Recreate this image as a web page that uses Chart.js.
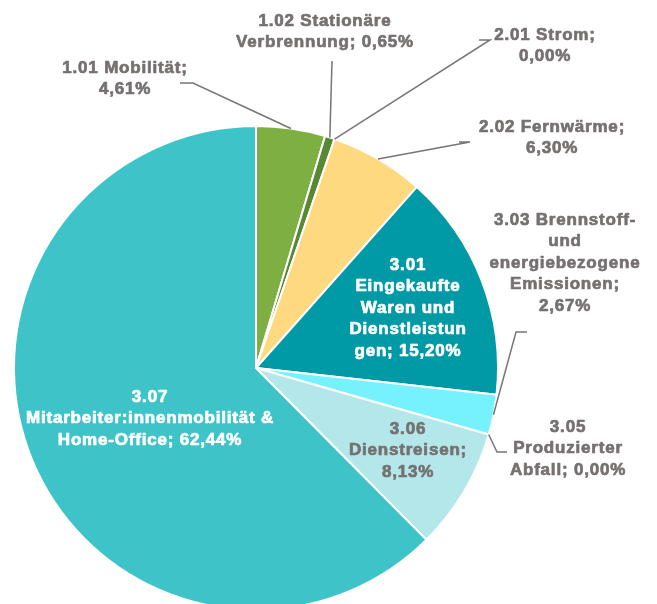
<!DOCTYPE html>
<html>
<head>
  <title>Emissionen nach Kategorie</title>
  <script src="https://cdn.jsdelivr.net/npm/chart.js"></script>
  <style>
    html, body { margin: 0; padding: 0; background: #fff; overflow: hidden; }
    #wrap { position: absolute; left: 0; top: 0; width: 657px; height: 611px; }
  </style>
</head>
<body>
  <div id="wrap"><canvas id="pieChart"></canvas></div>

  <script>
    // data
    const categories = [
      '1.01 Mobilität',
      '1.02 Stationäre Verbrennung',
      '2.01 Strom',
      '2.02 Fernwärme',
      '3.01 Eingekaufte Waren und Dienstleistungen',
      '3.03 Brennstoff- und energiebezogene Emissionen',
      '3.05 Produzierter Abfall',
      '3.06 Dienstreisen',
      '3.07 Mitarbeiter:innenmobilität & Home-Office'
    ];
    const shares = [4.61, 0.65, 0.00, 6.30, 15.20, 2.67, 0.00, 8.13, 62.44];
    const sliceColors = ['#7daf43', '#578833', '#4472c4', '#ffd97f', '#0099a6', '#75f2fd', '#a5a5a5', '#b4e7ea', '#3ec3c9'];

    // how each data label is wrapped, {v} = value
    const labelWrap = [
      '1.01 Mobilität;|{v}',
      '1.02 Stationäre|Verbrennung; {v}',
      '2.01 Strom;|{v}',
      '2.02 Fernwärme;|{v}',
      '3.01|Eingekaufte|Waren und|Dienstleistun|gen; {v}',
      '3.03 Brennstoff-|und|energiebezogene|Emissionen;|{v}',
      '3.05|Produzierter|Abfall; {v}',
      '3.06|Dienstreisen;|{v}',
      '3.07|Mitarbeiter:innenmobilität &|Home-Office; {v}'
    ];

    // label placement (centre of first line) and leader line bends
    const labelPos = [
      [125, 68], [325, 21], [545, 35], [552, 127], [408, 265],
      [565, 220], [568, 427], [408, 429], [150, 397]
    ];
    const leaders = [
      [[193, 83], [180, 83]],
      [[332, 61]],
      [[490, 40], [479, 40]],
      [[470, 142], [459, 142]],
      null,
      [[516, 332], [527, 332]],
      [[497, 452], [507, 452]],
      null,
      null
    ];
    const labelColor = ['#767171', '#767171', '#767171', '#767171', '#ffffff', '#767171', '#767171', '#767171', '#ffffff'];

    const fmt = v => v.toFixed(2).replace('.', ',') + '%';

    const pieLabels = {
      id: 'pieLabels',
      afterDatasetsDraw(chart) {
        const ctx = chart.ctx;
        const arcs = chart.getDatasetMeta(0).data;
        ctx.save();
        ctx.strokeStyle = '#767676';
        ctx.lineWidth = 1.5;
        arcs.forEach((arc, i) => {
          if (!leaders[i]) return;
          const mid = (arc.startAngle + arc.endAngle) / 2;
          ctx.beginPath();
          ctx.moveTo(arc.x + Math.cos(mid) * arc.outerRadius, arc.y + Math.sin(mid) * arc.outerRadius);
          leaders[i].forEach(p => ctx.lineTo(p[0], p[1]));
          ctx.stroke();
        });

        ctx.font = 'bold 17px "Liberation Sans", Arial, sans-serif';
        ctx.letterSpacing = '0.8px';
        ctx.textAlign = 'center';
        ctx.textBaseline = 'middle';
        ctx.lineWidth = 0.7;
        ctx.lineJoin = 'round';
        labelWrap.forEach((w, i) => {
          const lines = w.replace('{v}', fmt(shares[i])).split('|');
          ctx.fillStyle = labelColor[i];
          ctx.strokeStyle = labelColor[i];
          lines.forEach((t, k) => {
            const y = labelPos[i][1] + k * 21.6;
            ctx.fillText(t, labelPos[i][0], y);
            ctx.strokeText(t, labelPos[i][0], y);
          });
        });
        ctx.restore();
      }
    };

    new Chart(document.getElementById('pieChart'), {
      type: 'pie',
      data: {
        labels: categories,
        datasets: [{
          data: shares,
          backgroundColor: sliceColors,
          borderColor: '#ffffff',
          borderWidth: 2
        }]
      },
      options: {
        responsive: true,
        maintainAspectRatio: false,
        animation: false,
        layout: { padding: { top: 125, left: 13, right: 158, bottom: 0 } },
        plugins: {
          legend: { display: false },
          tooltip: { enabled: false }
        }
      },
      plugins: [pieLabels]
    });
  </script>
</body>
</html>
